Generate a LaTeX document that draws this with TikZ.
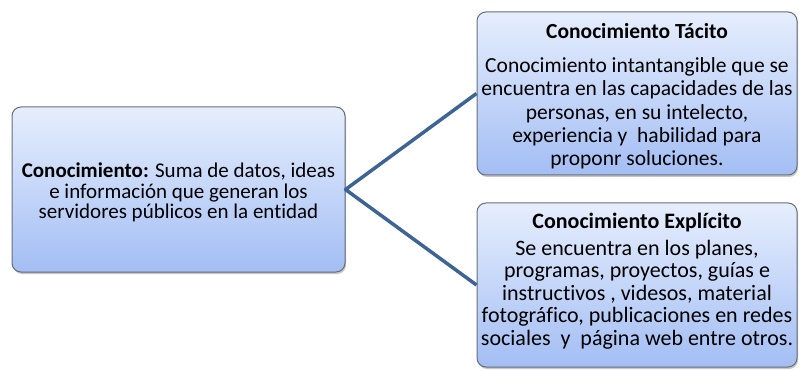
\documentclass[tikz,border=0pt]{standalone}
\usepackage{fontspec}
\setmainfont[Ligatures=NoCommon]{Carlito}
\usetikzlibrary{shadows}
\definecolor{boxtop}{HTML}{E6EEFD}
\definecolor{boxbottom}{HTML}{A3BEF4}
\definecolor{boxline}{HTML}{656E7A}
\definecolor{linkblue}{HTML}{3E6496}

\begin{document}
\begin{tikzpicture}[x=1pt,y=-1pt,
      every node/.style={rectangle, rounded corners=9pt, draw=boxline, line width=1pt,
        top color=boxtop, bottom color=boxbottom, align=center, inner sep=1pt,
        drop shadow={shadow xshift=1pt,shadow yshift=-2pt,opacity=.45},
        font=\fontsize{21}{20.5}\selectfont}]
    \useasboundingbox (0,0) rectangle (799,371);
    \node (know) [minimum width=333pt, minimum height=165pt] at (178.5,189.5)
      {\rule{0pt}{21pt}\textbf{Conocimiento:} Suma de datos, ideas\\ e información que generan los\\ servidores públicos en la entidad};
    \node (tacit) [minimum width=320pt, minimum height=163pt,
        font=\fontsize{21.5}{23.3}\selectfont] at (637,93.5)
      {\rule{0pt}{21pt}\textbf{Conocimiento Tácito}\\[10.5pt] Conocimiento intantangible que se\\ encuentra en las capacidades de las\\
       personas, en su intelecto,\\ experiencia y~ habilidad para\\ proponr soluciones.};
    \node (explicit) [minimum width=320pt, minimum height=164pt,
        font=\fontsize{22}{22.5}\selectfont] at (637,285)
      {\textbf{Conocimiento Explícito}\\[4.5pt] Se encuentra en los planes,\\ programas, proyectos, guías e\\
       instructivos , videsos, material\\ fotográfico, publicaciones en redes\\ sociales~ y~ página web entre otros.\rule[-12pt]{0pt}{0pt}};
    \draw[linkblue, line width=3.5pt, line join=round]
      (tacit.west) -- (know.east) -- (explicit.west);
  \end{tikzpicture}
\end{document}
